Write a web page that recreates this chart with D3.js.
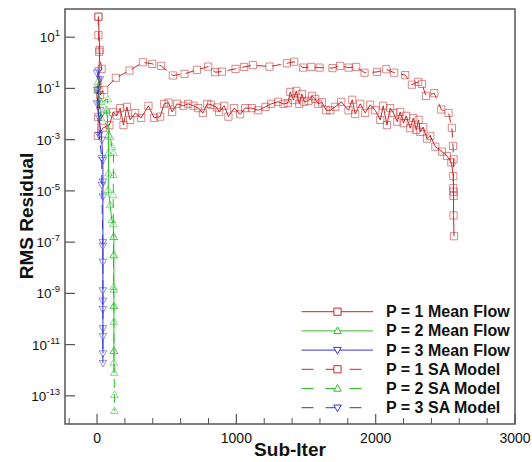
<!DOCTYPE html>
<html><head><meta charset="utf-8">
<script src="https://cdn.jsdelivr.net/npm/d3@7/dist/d3.min.js"></script>
<style>body{margin:0;background:#fff}svg{display:block}text{font-family:"Liberation Sans",Arial,sans-serif}</style>
</head><body>
<svg id="c" width="532" height="462"></svg>
<script>
// ---- data ----
const seriesNames = ["P = 1 Mean Flow","P = 2 Mean Flow","P = 3 Mean Flow","P = 1 SA Model","P = 2 SA Model","P = 3 SA Model"];
const xTicks = [0,1000,2000,3000];
const yTickExps = [1,-1,-3,-5,-7,-9,-11,-13];

const p1MeanIter = [10,19,11,8,6,44,89,116,142,166,190,214,238,274,317,369,410,453,482,513,539,575,620,654,692,726,760,791,819,860,877,913,943,984,1027,1063,1111,1157,1209,1250,1300,1338,1370,1387,1410,1430,1451,1470,1487,1518,1544,1566,1588,1614,1645,1674,1710,1753,1805,1832,1853,1889,1925,1961,1997,2033,2054,2081,2104,2128,2155,2176,2200,2219,2248,2270,2291,2308,2320,2341,2368,2392,2428,2476,2512,2543,2557,2559,2559,2562];
const p1MeanRes = [63,3.2,0.087,7.8e-3,1.4e-3,2.9e-3,3.7e-3,0.012,8.7e-3,0.017,3.7e-3,0.019,5.9e-3,0.011,7.1e-3,0.021,7.1e-3,7.9e-3,0.025,0.028,0.012,0.025,0.021,0.025,0.021,0.017,0.011,0.025,0.023,0.018,0.012,0.021,7.9e-3,0.017,9.8e-3,0.017,0.017,0.014,0.019,0.025,0.030,0.025,0.027,0.073,0.035,0.080,0.025,0.061,0.030,0.033,0.051,0.039,0.025,0.029,0.014,0.014,0.019,0.030,0.014,0.036,0.010,0.025,0.011,0.023,0.014,5.9e-3,0.021,3.7e-3,0.017,0.011,5.0e-3,0.012,4.4e-3,8.5e-3,2.8e-3,7.0e-3,2.4e-3,5.9e-3,2.0e-3,3.1e-3,1.1e-3,1.4e-3,5.3e-4,3.4e-4,2.3e-4,1.3e-4,3.8e-5,9.3e-6,1.1e-6,1.7e-7];

const p1SAIter = [10,10,15,33,22,51,135,233,329,396,460,544,628,717,798,848,896,994,1056,1119,1238,1363,1415,1478,1537,1597,1690,1745,1805,1860,1920,2009,2076,2133,2212,2260,2305,2332,2361,2420,2471,2523,2547,2555,2559,2557,2559];
const p1SARes = [63,12,2.7,0.58,0.055,0.087,0.26,0.50,1.05,0.91,0.76,0.32,0.37,0.53,0.71,0.43,0.45,0.58,0.69,0.81,0.71,0.96,1.1,0.65,0.69,0.65,0.62,0.76,0.65,0.69,0.41,0.44,0.56,0.41,0.33,0.14,0.18,0.15,0.051,0.065,0.015,0.011,2.9e-3,5.7e-4,1.7e-4,1.3e-5,6.3e-6];

const p2MeanIter = [6,15,29,70,82,82,82,80,94,106,116,121,121,121,121,121,121,121,123];
const p2MeanRes = [0.18,0.035,6.9e-3,0.014,1.5e-3,3.0e-4,4.9e-5,1.1e-5,2.8e-6,7.4e-7,5.1e-7,1.6e-7,3.1e-8,1.4e-9,3.2e-10,7.8e-11,5.7e-12,2.0e-12,8.0e-13];

const p2SAIter = [1,29,78,70,94,106,118,118,116,118,118,118,121,121,125,125];
const p2SARes = [0.087,0.030,0.038,0.014,1.3e-3,5.4e-4,3.0e-4,4.2e-5,6.9e-6,1.6e-7,3.1e-8,1.8e-9,3.2e-10,5.7e-12,1.1e-13,2.6e-14];

const p3MeanIter = [0,22,0,15,34,42,42,42,42,42,42,42,42,42];
const p3MeanRes = [0.41,0.23,0.026,7.1e-3,9.8e-4,1.6e-4,2.3e-5,6.0e-6,1.0e-7,1.7e-8,1.3e-9,2.4e-10,2.1e-11,4.5e-12];

const p3SAIter = [10,0,22,15,34,34,42,42,42,42];
const p3SARes = [0.50,0.087,0.014,1.5e-3,1.9e-4,1.7e-5,7.1e-8,5.1e-10,4.3e-11,1.9e-12];

// ---- styles ----
const RED="#c82828", GREEN="#30bf30", BLUE="#3636d2";
const series = [
  {name:seriesNames[3], it:p1SAIter, r:p1SARes, color:RED, dash:"9,6", marker:"square"},
  {name:seriesNames[0], it:p1MeanIter, r:p1MeanRes, color:RED, dash:null, marker:"square"},
  {name:seriesNames[4], it:p2SAIter, r:p2SARes, color:GREEN, dash:"9,6", marker:"up"},
  {name:seriesNames[1], it:p2MeanIter, r:p2MeanRes, color:GREEN, dash:null, marker:"up"},
  {name:seriesNames[5], it:p3SAIter, r:p3SARes, color:BLUE, dash:"9,6", marker:"down"},
  {name:seriesNames[2], it:p3MeanIter, r:p3MeanRes, color:BLUE, dash:null, marker:"down"}
];

const svg = d3.select("#c");
const L=65, R=515, T=9, B=424;
const x = d3.scaleLinear().domain([-230,3000]).range([L,R]);
const y = d3.scaleLog().domain([Math.pow(10,-14.1),Math.pow(10,2.1)]).range([B,T]);

svg.append("defs").append("clipPath").attr("id","clip").append("rect")
  .attr("x",L).attr("y",T).attr("width",R-L).attr("height",B-T);

function markerPath(type, s){
  if(type==="square") return `M${-s},${-s}h${2*s}v${2*s}h${-2*s}Z`;
  if(type==="up") return `M0,${-s*1.1}L${s*1.05},${s*0.75}L${-s*1.05},${s*0.75}Z`;
  return `M0,${s*1.1}L${s*1.05},${-s*0.75}L${-s*1.05},${-s*0.75}Z`;
}

const plot = svg.append("g").attr("clip-path","url(#clip)");
const line = d3.line().x(d=>x(d[0])).y(d=>y(d[1]));
series.forEach(s=>{
  const pts = s.it.map((v,i)=>[v,s.r[i]]);
  plot.append("path").attr("d",line(pts)).attr("fill","none")
    .attr("stroke",s.color).attr("stroke-width",1)
    .attr("stroke-dasharray",s.dash);
  plot.selectAll(null).data(pts).enter().append("path")
    .attr("transform",d=>`translate(${x(d[0])},${y(d[1])})`)
    .attr("d",markerPath(s.marker,3.6)).attr("fill","none")
    .attr("stroke",s.color).attr("stroke-opacity",0.55).attr("stroke-width",1);
});

// frame
svg.append("rect").attr("x",L).attr("y",T).attr("width",R-L).attr("height",B-T)
  .attr("fill","none").attr("stroke","#555").attr("stroke-width",1.5);

// x axis ticks (inward)
const minorX = d3.range(-200,3001,200).filter(v=>v%1000!==0);
svg.selectAll(null).data(minorX).enter().append("line")
  .attr("x1",d=>x(d)).attr("x2",d=>x(d)).attr("y1",B).attr("y2",B-6)
  .attr("stroke","#555").attr("stroke-width",1);
svg.selectAll(null).data(xTicks).enter().append("line")
  .attr("x1",d=>x(d)).attr("x2",d=>x(d)).attr("y1",B).attr("y2",B-10)
  .attr("stroke","#555").attr("stroke-width",1.2);
svg.selectAll(null).data(xTicks).enter().append("text")
  .attr("x",d=>x(d)).attr("y",B+19).attr("text-anchor","middle")
  .attr("font-size",14).attr("fill","#111").text(d=>d);

// y axis ticks
svg.selectAll(null).data(yTickExps).enter().append("line")
  .attr("x1",L).attr("x2",L+10).attr("y1",d=>y(Math.pow(10,d))).attr("y2",d=>y(Math.pow(10,d)))
  .attr("stroke","#555").attr("stroke-width",1.2);
const yl = svg.selectAll(null).data(yTickExps).enter().append("text")
  .attr("x",60).attr("y",d=>y(Math.pow(10,d))+5).attr("text-anchor","end")
  .attr("font-size",13.5).attr("fill","#111");
yl.append("tspan").text("10");
yl.append("tspan").attr("dy",-6).attr("font-size",9.5).text(d=>d);

// axis titles
svg.append("text").attr("x",(L+R)/2).attr("y",456).attr("text-anchor","middle")
  .attr("font-size",19).attr("font-weight","bold").attr("fill","#111").text("Sub-Iter");
svg.append("text").attr("transform","translate(33,216) rotate(-90)").attr("text-anchor","middle")
  .attr("font-size",19).attr("font-weight","bold").attr("fill","#111").text("RMS Residual");

// legend
const legOrder = [1,3,5,0,2,4];
const legSeries = legOrder.map(i=>series[i]);
const lg = svg.append("g");
legSeries.forEach((s,i)=>{
  const yy = 311.7 + i*19.2;
  lg.append("line").attr("x1",301.5).attr("x2",373).attr("y1",yy).attr("y2",yy)
    .attr("stroke",s.color).attr("stroke-width",1)
    .attr("stroke-dasharray",s.dash?"12,12":null);
  lg.append("path").attr("transform",`translate(337.5,${yy})`)
    .attr("d",markerPath(s.marker,3.6)).attr("fill","#fff").attr("stroke",s.color).attr("stroke-width",1);
  lg.append("text").attr("x",386).attr("y",yy+5.5).attr("font-size",16)
    .attr("font-weight","bold").attr("fill","#111").text(s.name);
});
</script>
</body></html>
